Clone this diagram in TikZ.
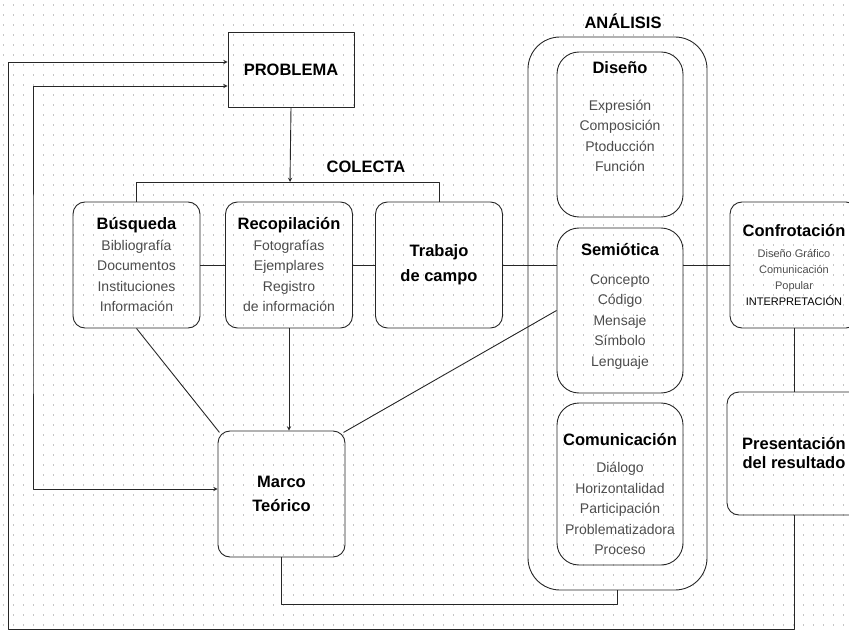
\documentclass[tikz,border=0pt]{standalone}
\usepackage{fontspec}
\setmainfont{Liberation Sans}
\usetikzlibrary{calc}
\newcommand{\titfont}{\fontsize{16.5}{20}\selectfont\bfseries}
\tikzset{
  caja/.style={draw=black!85, line width=0.9pt, rounded corners=12pt, minimum width=127pt, minimum height=126pt,
    align=center, inner sep=1pt, text=black!70, font=\fontsize{14}{20.5}\selectfont},
  cajatit/.style={caja, text=black, font=\fontsize{16.5}{#1}\selectfont\bfseries},
  subcaja/.style={draw=black!85, line width=0.9pt, rounded corners=22pt, minimum width=126pt, minimum height=#1},
  titulo/.style={font=\titfont, text=black, inner sep=1pt},
  lista/.style={align=center, text=black!70, font=\fontsize{14}{20.5}\selectfont, inner sep=1pt},
  linea/.style={draw=black!85, line width=0.9pt},
  punto/.style={gray!45, line width=1.1pt, dash pattern=on 1.1pt off 8.9pt}
}
\begin{document}
\begin{tikzpicture}[x=1pt, y=-1pt, >=stealth, line join=round]
  \useasboundingbox (0,0) rectangle (849,631);
  % cuadrícula de puntos
  \foreach \y in {5,15,...,625} \draw[punto] (3,\y) -- (849,\y);

  % COLECTA
  \node[draw=black!85, line width=0.9pt, minimum width=126pt, minimum height=75pt, titulo] (prob) at (291,69.5) {PROBLEMA};
  \node[titulo] (colecta) at (366,167) {COLECTA};
  \coordinate (col) at (290,182);
  \node[caja] (bus) at (136.5,265) {{\titfont\color{black}Búsqueda}\\Bibliografía\\Documentos\\Instituciones\\Información};
  \node[caja] (rec) at (289,265) {{\titfont\color{black}Recopilación}\\Fotografías\\Ejemplares\\Registro\\de información};
  \node[cajatit=25] (trab) at (439,265) {Trabajo\\de campo};
  \node[cajatit=24] (marco) at (281.5,494) {Marco\\Teórico};

  % ANÁLISIS
  \node[draw=black!85, line width=0.9pt, rounded corners=32pt, minimum width=179pt, minimum height=553pt] (analisis) at (617.5,313.5) {};
  \node[titulo] (analisistit) at (623,21) {ANÁLISIS};
  \node[subcaja=165pt] (dis) at (620,134.5) {};
  \node[titulo] (distit) at (620,68) {Diseño};
  \node[lista] (dislis) at (620,136) {Expresión\\Composición\\Ptoducción\\Función};
  \node[subcaja=165pt] (sem) at (620,310.5) {};
  \node[titulo] (semtit) at (620,250) {Semiótica};
  \node[lista] (semlis) at (620,322) {Concepto\\Código\\Mensaje\\Símbolo\\Lenguaje};
  \node[subcaja=162pt] (com) at (620,484) {};
  \node[titulo] (comtit) at (620,440) {Comunicación};
  \node[lista] (comlis) at (620,508.5) {Diálogo\\Horizontalidad\\Participación\\Problematizadora\\Proceso};

  % resultado
  \node[caja, minimum width=128pt, font=\fontsize{11}{16}\selectfont] (conf) at (794,265)
    {{\titfont\color{black}Confrotación}\\[5pt]Diseño Gráfico\\Comunicación\\Popular\\\color{black}INTERPRETACIÓN};
  \node[cajatit=19, minimum width=134pt, minimum height=123pt] (pres) at (794,453.5) {Presentación\\del resultado};

  % conexiones
  \draw[linea, ->] (prob.south) -- (col);
  \draw[linea] (bus.north) -- (bus.north |- col) -- (trab.north |- col) -- (trab.north);
  \draw[linea] (bus.east) -- (rec.west);
  \draw[linea] (rec.east) -- (trab.west);
  \draw[linea] (trab.east) -- (trab.east -| sem.west);
  \draw[linea] (sem.east |- conf.west) -- (conf.west);
  \draw[linea] (bus.south) -- ($(marco.north west)!0.03!(marco.center)$);
  \draw[linea, ->] (rec.south) -- (rec.south |- marco.north);
  \draw[linea] (sem.west) -- ($(marco.north east)!0.03!(marco.center)$);
  \coordinate (m1) at (0,604);
  \draw[linea] (marco.south) -- (marco.south |- m1) -| (analisis.south);
  \draw[linea] (conf.south) -- (pres.north);
  % lazos de retorno
  \coordinate (l1) at (8,629);
  \coordinate (l2) at (33,300);
  \draw[linea, ->] (pres.south) |- (l1) |- ([yshift=7.5pt]prob.west);
  \draw[linea, <->] ([yshift=-16.5pt]prob.west) -| (l2) |- ([yshift=5pt]marco.west);
\end{tikzpicture}
\end{document}
